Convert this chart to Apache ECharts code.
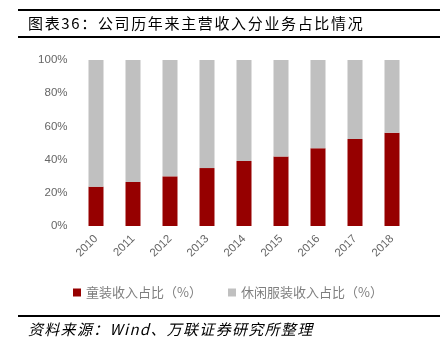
<!DOCTYPE html>
<html><head><meta charset="utf-8">
<script src="https://cdn.jsdelivr.net/npm/echarts@6/dist/echarts.min.js"></script>
<style>html,body{margin:0;padding:0;background:#fff}#c{width:440px;height:341px}</style>
</head><body><div id="c"></div>
<script>
var years = ['2010','2011','2012','2013','2014','2015','2016','2017','2018'];
var kidsShare = [23.7, 26.5, 29.9, 34.9, 39.2, 41.8, 46.8, 52.4, 56.2];
var casualShare = [76.3, 73.5, 70.1, 65.1, 60.8, 58.2, 53.2, 47.6, 43.8];
var seriesNames = ['童装收入占比（%）', '休闲服装收入占比（%）'];
var titleText = '图表36：公司历年来主营收入分业务占比情况';
var sourceText = '资料来源：Wind、万联证券研究所整理';

var cjk = '"Noto Sans CJK SC", sans-serif';
var ctx = document.createElement('canvas').getContext('2d');
function spacedText(str, x, y, font, spacing, fill) {
  ctx.font = font;
  var els = [], cx = x;
  for (var i = 0; i < str.length; i++) {
    var ch = str[i];
    els.push({type: 'text', x: cx, y: y, style: {text: ch, font: font, fill: fill, textVerticalAlign: 'middle'}});
    cx += ctx.measureText(ch).width + spacing;
  }
  return els;
}

var chart = echarts.init(document.getElementById('c'));
var graphics = [
  {type: 'rect', shape: {x: 18, y: 9, width: 422, height: 2}, style: {fill: '#000'}},
  {type: 'rect', shape: {x: 18, y: 36, width: 422, height: 2}, style: {fill: '#000'}},
  {type: 'rect', shape: {x: 18, y: 315, width: 422, height: 2}, style: {fill: '#000'}}
].concat(spacedText(titleText, 28, 23, '15px ' + cjk, 1.65, '#000'))
 .concat(spacedText(sourceText, 28, 329, 'italic 15px ' + cjk, 1.3, '#000'));

chart.setOption({
  animation: false,
  grid: {left: 77.5, right: 29.5, top: 60, bottom: 115},
  legend: {
    left: 68, top: 281, itemWidth: 8, itemHeight: 8, itemGap: 26,
    icon: 'rect',
    textStyle: {color: '#7f7f7f', fontSize: 13, fontFamily: cjk},
    data: seriesNames
  },
  xAxis: {
    type: 'category', data: years,
    axisLine: {show: false}, axisTick: {show: false},
    axisLabel: {rotate: 45, color: '#666', fontSize: 11.5, fontFamily: 'Liberation Sans, Arial', margin: 11}
  },
  yAxis: {
    type: 'value', min: 0, max: 100, interval: 20,
    splitLine: {show: false}, axisLine: {show: false}, axisTick: {show: false},
    axisLabel: {formatter: '{value}%', color: '#666', fontSize: 11.5, fontFamily: 'Liberation Sans, Arial', margin: 10}
  },
  series: [
    {name: seriesNames[0], type: 'bar', stack: 's', barWidth: 15, data: kidsShare,
     itemStyle: {color: '#960000'}},
    {name: seriesNames[1], type: 'bar', stack: 's', barWidth: 15, data: casualShare,
     itemStyle: {color: '#c0c0c0'}}
  ],
  graphic: graphics
});
</script></body></html>
